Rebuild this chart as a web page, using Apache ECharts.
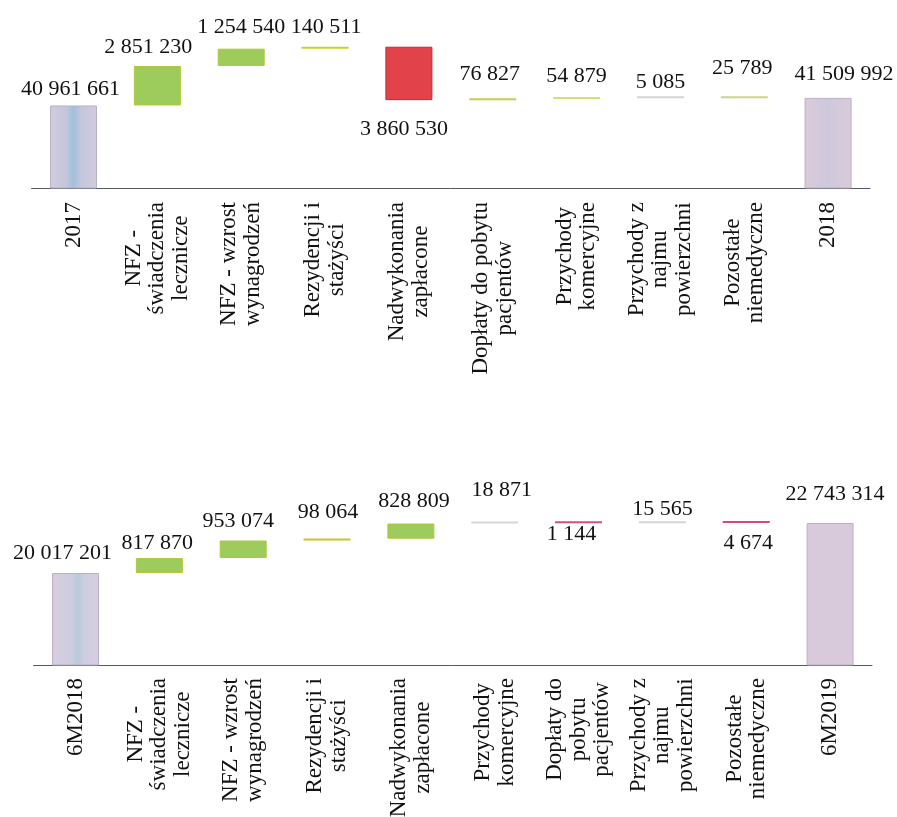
<!DOCTYPE html>
<html>
<head>
<meta charset="utf-8">
<script src="https://cdn.jsdelivr.net/npm/echarts@6/dist/echarts.min.js"></script>
<style>
html,body{margin:0;padding:0;background:#fff;}
#chart{width:897px;height:817px;}
</style>
</head>
<body>
<div id="chart"></div>
<script>
// ---- DATA ----
const topCategories = ['2017', 'NFZ -\nświadczenia\nlecznicze', 'NFZ - wzrost\nwynagrodzeń', 'Rezydencji i\nstażyści', 'Nadwykonania\nzapłacone', 'Dopłaty do pobytu\npacjentów', 'Przychody\nkomercyjne', 'Przychody z\nnajmu\npowierzchni', 'Pozostałe\nniemedyczne', '2018'];
const topValues = [40961661, 2851230, 1254540, 140511, -3860530, 76827, 54879, 5085, 25789, 41509992];

const bottomCategories = ['6M2018', 'NFZ -\nświadczenia\nlecznicze', 'NFZ - wzrost\nwynagrodzeń', 'Rezydencji i\nstażyści', 'Nadwykonania\nzapłacone', 'Przychody\nkomercyjne', 'Dopłaty do\npobytu\npacjentów', 'Przychody z\nnajmu\npowierzchni', 'Pozostałe\nniemedyczne', '6M2019'];
const bottomValues = [20017201, 817870, 953074, 98064, 828809, 18871, -1144, 15565, -4674, 22743314];

// ---- STYLE (kept apart from data) ----
const FONT = 'Liberation Serif';
const AXIS_FS = 23, AXIS_LH = 23.5;
const GREEN = '#9dcb5c', RED = '#e2424a';
const totalTopA = {type:'linear',x:0,y:0,x2:1,y2:0,colorStops:[{offset:0,color:'#d4cbdd'},{offset:0.35,color:'#c3c6dc'},{offset:0.5,color:'#9fc0dc'},{offset:0.65,color:'#c3c6dc'},{offset:1,color:'#d4cbdd'}]};
const totalTopB = {type:'linear',x:0,y:0,x2:1,y2:0,colorStops:[{offset:0,color:'#dacbd9'},{offset:0.5,color:'#cfc8dc'},{offset:1,color:'#dacbd9'}]};
const totalBotA = {type:'linear',x:0,y:0,x2:1,y2:0,colorStops:[{offset:0,color:'#d8cde0'},{offset:0.4,color:'#cfcde0'},{offset:0.55,color:'#b8cadd'},{offset:0.7,color:'#cfcde0'},{offset:1,color:'#d8cde0'}]};
const totalBotB = '#d8cadb';
const topColors = [totalTopA, GREEN, GREEN, '#c6d22e', RED, '#c4cf4a', '#d8dc7a', '#d4d4d4', '#cdd48a', totalTopB];
const bottomColors = [totalBotA, GREEN, GREEN, '#c9c62a', GREEN, '#d8d8d8', '#d4507c', '#d4d4d4', '#d44a78', totalBotB];
const topLabelOffset = [[-3,0],[-9,-3],[0,-5],[1,-3],[-5,13],[-3,-8],[0,-5],[0,2],[-2,-12],[16,-8]];
const bottomLabelOffset = [[-13,-4],[-2,1],[-5,-3],[1,-10],[3,-6],[7,-15],[-7,-5],[0,4],[2,4],[5,-13]];

function fmt(v){ return String(Math.abs(v)).replace(/\B(?=(\d{3})+(?!\d))/g, ' '); }

const measureCtx = document.createElement('canvas').getContext('2d');
function measure(t){ measureCtx.font = AXIS_FS + 'px ' + FONT; return measureCtx.measureText(t).width; }

function buildWaterfall(values){
  const n = values.length;
  let cum = 0; const base = [], delta = [];
  values.forEach((v, i) => {
    if (i === 0 || i === n - 1) { base.push(0); delta.push(v); cum = v; }
    else if (v >= 0) { base.push(cum); delta.push(v); cum += v; }
    else { cum += v; base.push(cum); delta.push(-v); }
  });
  return {base, delta};
}

function panelSeries(values, colors, offsets, idx){
  const w = buildWaterfall(values);
  const n = values.length;
  const deltaData = w.delta.map((d, i) => {
    const total = (i === 0 || i === n - 1);
    const neg = values[i] < 0;
    const col = colors[i];
    let border = 'transparent', bw = 0;
    if (total) { border = '#b9b0c6'; bw = 1; }
    else if (col === GREEN) { border = '#b3c83a'; bw = 1; }
    else if (col === RED) { border = '#c62a32'; bw = 1; }
    return {
      value: d,
      itemStyle: {color: col, borderColor: border, borderWidth: bw},
      label: {position: neg ? 'bottom' : 'top', offset: offsets[i]}
    };
  });
  return [
    {
      type: 'bar', xAxisIndex: idx, yAxisIndex: idx, stack: 'wf' + idx,
      data: w.base, itemStyle: {color: 'transparent'}, barWidth: 47,
      silent: true, label: {show: false}
    },
    {
      type: 'bar', xAxisIndex: idx, yAxisIndex: idx, stack: 'wf' + idx,
      data: deltaData, barWidth: 47, barMinHeight: 2,
      label: {
        show: true, distance: 5, fontFamily: FONT, fontSize: 22, color: '#111',
        formatter: p => fmt(values[p.dataIndex])
      }
    }
  ];
}

function xAxisCfg(cats, idx, margin){
  // each line is padded to the width of the longest line so lines stay centred
  const rich = {};
  cats.forEach((c, i) => {
    const lines = c.split('\n');
    const ws = lines.map(measure);
    const mx = Math.max.apply(null, ws);
    lines.forEach((l, j) => {
      const p = (mx - ws[j]) / 2;
      rich['s' + i + '_' + j] = {fontFamily: FONT, fontSize: AXIS_FS, lineHeight: AXIS_LH, color: '#111', align: 'center', padding: [0, p, 0, p]};
    });
  });
  return {
    type: 'category', gridIndex: idx, data: cats,
    axisLine: {lineStyle: {color: '#55586a', width: 1}},
    axisTick: {show: false},
    axisLabel: {
      interval: 0, rotate: 90, margin: margin,
      fontFamily: FONT, fontSize: AXIS_FS, lineHeight: AXIS_LH, color: '#111',
      formatter: v => {
        const i = cats.indexOf(v);
        return v.split('\n').map((l, j) => '{s' + i + '_' + j + '|' + l + '}').join('\n');
      },
      rich: rich
    }
  };
}

const chart = echarts.init(document.getElementById('chart'));
chart.setOption({
  backgroundColor: '#fff',
  animation: false,
  grid: [
    {left: 31.6, right: 27, top: 15, bottom: 629, containLabel: false, outerBoundsMode: 'none'},
    {left: 33.6, right: 25, top: 481.6, bottom: 152, containLabel: false, outerBoundsMode: 'none'}
  ],
  xAxis: [xAxisCfg(topCategories, 0, 14), xAxisCfg(bottomCategories, 1, 13)],
  yAxis: [
    {type: 'value', gridIndex: 0, min: 35000000, max: 47500000, show: false, splitLine: {show: false}},
    {type: 'value', gridIndex: 1, min: 15000000, max: 25000000, show: false, splitLine: {show: false}}
  ],
  series: [].concat(
    panelSeries(topValues, topColors, topLabelOffset, 0),
    panelSeries(bottomValues, bottomColors, bottomLabelOffset, 1)
  )
});
</script>
</body>
</html>
